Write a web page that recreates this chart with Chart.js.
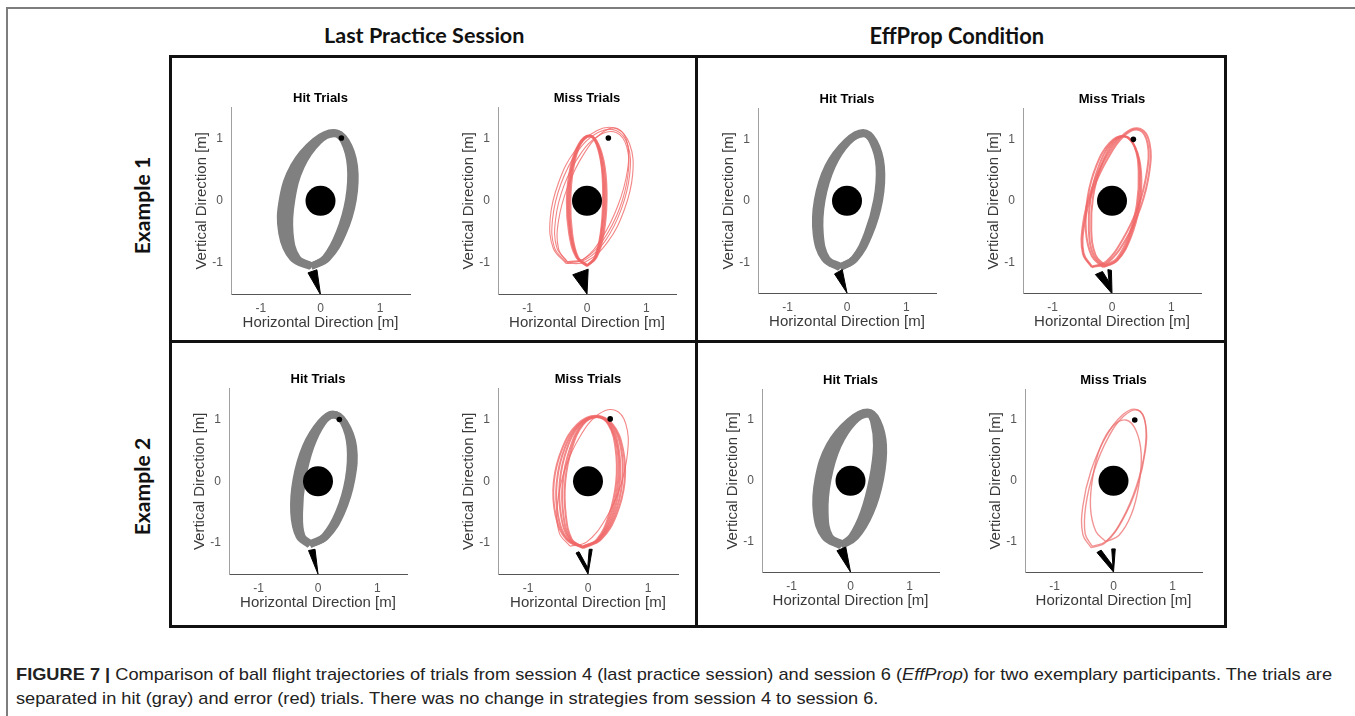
<!DOCTYPE html>
<html><head><meta charset="utf-8">
<script src="https://cdn.jsdelivr.net/npm/chart.js@4.4.1/dist/chart.umd.min.js"></script>
<style>
html,body{margin:0;padding:0;background:#fff;}
#page{position:relative;width:1355px;height:716px;overflow:hidden;background:#fff;}
.abs{position:absolute;}
#frame{left:6px;top:7px;width:1349px;height:709px;border-top:2px solid #7d7d7d;border-left:2px solid #7d7d7d;box-sizing:border-box;}
#box{left:169px;top:55px;width:1058px;height:573px;border:3px solid #111;box-sizing:border-box;}
#vdiv{left:695px;top:55px;width:3px;height:573px;background:#111;}
#hdiv{left:169px;top:340px;width:1058px;height:3px;background:#111;}
.head{font-family:Lato,"Open Sans",sans-serif;font-weight:bold;color:#111;white-space:nowrap;font-size:19px;line-height:1;}
.cap{left:16px;font-family:"Liberation Sans Narrow","Liberation Sans",Arial,sans-serif;font-size:17px;line-height:20px;color:#222;white-space:nowrap;transform-origin:0 50%;}
canvas{position:absolute;}
</style></head>
<body>
<div id="page">
  <div id="frame" class="abs"></div>
  <div id="box" class="abs"></div>
  <div id="vdiv" class="abs"></div>
  <div id="hdiv" class="abs"></div>
</div>
<script>
// ---------------- data ----------------
const columnTitles = ["Last Practice Session", "EffProp Condition"];
const rowTitles = ["Example 1", "Example 2"];
const subplotTitles = ["Hit Trials", "Miss Trials"];
const xAxisLabel = "Horizontal Direction [m]";
const yAxisLabel = "Vertical Direction [m]";
const axisLimits = [-1.5, 1.5];
const xTickValues = [-1, 0, 1];
const yTickValues = [-1, 0, 1];
const captionLead = "FIGURE 7 |";
const captionLine1 = " Comparison of ball flight trajectories of trials from session 4 (last practice session) and session 6 (";
const captionItalic = "EffProp";
const captionLine1End = ") for two exemplary participants. The trials are";
const captionLine2 = "separated in hit (gray) and error (red) trials. There was no change in strategies from session 4 to session 6.";

// center post and targets [x, y] in metres
const post = [0, 0];
const ex1PracticeHitTarget = [0.35, 1.01];
const ex1PracticeMissTarget = [0.36, 1.01];
const ex1EffPropMissTarget = [0.36, 1.00];
const ex2PracticeHitTarget = [0.36, 1.00];
const ex2PracticeMissTarget = [0.37, 1.01];
const ex2EffPropMissTarget = [0.36, 1.00];

// launcher outlines (x, y pairs)
const ex1PracticeHitLauncher = [-0.21,-1.16, 0,-1.51, -0.06,-1.11, -0.21,-1.16];
const ex1PracticeMissLauncher = [-0.24,-1.19, 0,-1.50, 0.02,-1.10, -0.24,-1.19];
const ex1EffPropHitLauncher = [-0.21,-1.19, 0,-1.50, -0.08,-1.12, -0.21,-1.19];
const ex1EffPropMissLauncher = [-0.28,-1.20, 0,-1.51, -0.01,-1.13, -0.07,-1.12, -0.05,-1.32, -0.16,-1.15, -0.28,-1.20];
const ex2PracticeHitLauncher = [-0.16,-1.12, 0,-1.50, -0.05,-1.10, -0.16,-1.12];
const ex2PracticeMissLauncher = [-0.20,-1.16, 0,-1.50, 0.07,-1.10, 0.02,-1.10, -0.005,-1.40, -0.15,-1.14, -0.20,-1.16];
const ex2EffPropHitLauncher = [-0.23,-1.15, 0,-1.50, -0.08,-1.09, -0.23,-1.15];
const ex2EffPropMissLauncher = [-0.28,-1.18, 0,-1.50, 0.03,-1.12, -0.03,-1.12, -0.01,-1.40, -0.21,-1.14, -0.28,-1.18];

// ball trajectories (x, y pairs)
const ex1PracticeHit = [
  [-0.16,-1.06, 0.12,-0.92, 0.38,-0.52, 0.55,0.02, 0.57,0.56, 0.43,0.96, 0.22,1.10, -0.10,0.96, -0.45,0.56, -0.64,0.02, -0.65,-0.52, -0.47,-0.92, -0.16,-1.06],
  [-0.15,-1.05, 0.10,-0.92, 0.34,-0.52, 0.51,0.02, 0.54,0.56, 0.41,0.96, 0.24,1.09, -0.07,0.96, -0.38,0.56, -0.56,0.02, -0.58,-0.52, -0.43,-0.92, -0.15,-1.05],
  [-0.14,-1.05, 0.08,-0.92, 0.31,-0.52, 0.47,0.02, 0.50,0.56, 0.39,0.96, 0.23,1.08, -0.03,0.96, -0.32,0.56, -0.48,0.02, -0.51,-0.52, -0.39,-0.92, -0.14,-1.05]
];
const ex1PracticeMissBand = [
  [0.00,-1.05, 0.16,-0.91, 0.28,-0.53, 0.33,0.00, 0.30,0.53, 0.19,0.91, 0.04,1.05, -0.14,0.91, -0.28,0.53, -0.34,0.00, -0.30,-0.53, -0.18,-0.91, 0.00,-1.05],
  [0.00,-1.05, 0.15,-0.91, 0.26,-0.53, 0.31,0.00, 0.28,0.53, 0.18,0.91, 0.04,1.05, -0.13,0.91, -0.26,0.53, -0.32,0.00, -0.28,-0.53, -0.17,-0.91, 0.00,-1.05],
  [0.00,-1.04, 0.14,-0.91, 0.24,-0.53, 0.29,0.00, 0.26,0.53, 0.17,0.91, 0.04,1.04, -0.12,0.91, -0.25,0.53, -0.30,0.00, -0.27,-0.53, -0.16,-0.91, 0.00,-1.04],
  [0.01,-1.04, 0.13,-0.91, 0.23,-0.53, 0.27,0.00, 0.25,0.53, 0.16,0.91, 0.05,1.04, -0.11,0.91, -0.23,0.53, -0.28,0.00, -0.25,-0.53, -0.15,-0.91, 0.01,-1.04]
];
const ex1PracticeMissLoops = [
  [-0.35,-1.01, -0.02,-0.98, 0.35,-0.66, 0.63,-0.14, 0.77,0.43, 0.72,0.91, 0.50,1.16, 0.17,1.13, -0.20,0.81, -0.48,0.29, -0.62,-0.28, -0.57,-0.76, -0.35,-1.01],
  [-0.35,-0.99, -0.03,-0.95, 0.31,-0.64, 0.58,-0.13, 0.72,0.43, 0.69,0.89, 0.49,1.13, 0.17,1.09, -0.17,0.78, -0.44,0.27, -0.58,-0.29, -0.55,-0.75, -0.35,-0.99],
  [-0.33,-0.98, -0.04,-0.93, 0.28,-0.62, 0.55,-0.12, 0.69,0.42, 0.67,0.87, 0.49,1.10, 0.20,1.05, -0.12,0.74, -0.39,0.24, -0.53,-0.30, -0.51,-0.75, -0.33,-0.98],
  [-0.32,-1.00, -0.06,-0.94, 0.25,-0.60, 0.52,-0.08, 0.68,0.48, 0.68,0.93, 0.52,1.16, 0.26,1.10, -0.05,0.76, -0.32,0.24, -0.48,-0.32, -0.48,-0.77, -0.32,-1.00]
];
const ex1EffPropHit = [
  [-0.12,-1.09, 0.14,-0.94, 0.38,-0.54, 0.55,0.01, 0.58,0.56, 0.46,0.96, 0.27,1.11, -0.01,0.96, -0.32,0.56, -0.50,0.01, -0.52,-0.54, -0.38,-0.94, -0.12,-1.09],
  [-0.11,-1.08, 0.13,-0.94, 0.36,-0.54, 0.52,0.01, 0.56,0.56, 0.44,0.96, 0.28,1.10, 0.01,0.96, -0.29,0.56, -0.46,0.01, -0.48,-0.54, -0.36,-0.94, -0.11,-1.08],
  [-0.10,-1.07, 0.12,-0.94, 0.34,-0.54, 0.50,0.01, 0.54,0.56, 0.43,0.96, 0.28,1.09, 0.02,0.96, -0.25,0.56, -0.42,0.01, -0.45,-0.54, -0.34,-0.94, -0.10,-1.07]
];
const ex1EffPropMissInner = [
  [-0.15,-1.08, 0.09,-0.97, 0.31,-0.61, 0.46,-0.09, 0.49,0.46, 0.39,0.87, 0.20,1.05, -0.04,0.94, -0.26,0.58, -0.41,0.06, -0.44,-0.49, -0.34,-0.90, -0.15,-1.08],
  [-0.13,-1.07, 0.09,-0.96, 0.30,-0.59, 0.44,-0.08, 0.47,0.46, 0.39,0.87, 0.21,1.05, -0.01,0.94, -0.22,0.57, -0.36,0.06, -0.39,-0.48, -0.31,-0.89, -0.13,-1.07],
  [-0.12,-1.05, 0.08,-0.94, 0.28,-0.58, 0.42,-0.06, 0.45,0.47, 0.38,0.88, 0.22,1.05, 0.02,0.94, -0.18,0.58, -0.32,0.06, -0.35,-0.47, -0.28,-0.88, -0.12,-1.05]
];
const ex1EffPropMissOuter = [
  [-0.34,-1.08, -0.08,-1.01, 0.22,-0.65, 0.48,-0.11, 0.63,0.48, 0.63,0.95, 0.48,1.17, 0.22,1.10, -0.08,0.74, -0.34,0.20, -0.49,-0.39, -0.49,-0.86, -0.34,-1.08],
  [-0.34,-1.07, -0.10,-0.99, 0.18,-0.63, 0.44,-0.10, 0.59,0.48, 0.60,0.93, 0.46,1.15, 0.22,1.07, -0.06,0.71, -0.32,0.18, -0.47,-0.40, -0.48,-0.85, -0.34,-1.07]
];
const ex2PracticeHit = [
  [-0.14,-1.03, 0.14,-0.89, 0.40,-0.50, 0.57,0.03, 0.60,0.56, 0.45,0.95, 0.25,1.09, 0.04,0.95, -0.21,0.56, -0.37,0.03, -0.41,-0.50, -0.32,-0.89, -0.14,-1.03],
  [-0.13,-1.02, 0.13,-0.89, 0.37,-0.50, 0.54,0.03, 0.57,0.56, 0.44,0.95, 0.26,1.08, 0.06,0.95, -0.16,0.56, -0.31,0.03, -0.36,-0.50, -0.29,-0.89, -0.13,-1.02],
  [-0.12,-1.01, 0.11,-0.89, 0.35,-0.50, 0.51,0.03, 0.54,0.56, 0.43,0.95, 0.26,1.07, 0.08,0.95, -0.12,0.56, -0.26,0.03, -0.31,-0.50, -0.27,-0.89, -0.12,-1.01]
];
const ex2PracticeMissBand = [
  [-0.08,-1.08, 0.22,-0.94, 0.47,-0.55, 0.61,-0.01, 0.58,0.53, 0.41,0.92, 0.13,1.06, -0.18,0.92, -0.43,0.53, -0.57,-0.01, -0.54,-0.55, -0.36,-0.94, -0.08,-1.08],
  [-0.08,-1.07, 0.20,-0.94, 0.44,-0.55, 0.57,-0.01, 0.55,0.53, 0.39,0.92, 0.14,1.05, -0.15,0.92, -0.39,0.53, -0.52,-0.01, -0.50,-0.55, -0.34,-0.94, -0.08,-1.07],
  [-0.09,-1.07, 0.18,-0.94, 0.41,-0.55, 0.53,-0.01, 0.51,0.53, 0.37,0.92, 0.14,1.05, -0.13,0.92, -0.35,0.53, -0.47,-0.01, -0.45,-0.55, -0.31,-0.94, -0.09,-1.07],
  [-0.09,-1.06, 0.17,-0.94, 0.38,-0.55, 0.50,-0.01, 0.49,0.53, 0.35,0.92, 0.15,1.04, -0.10,0.92, -0.30,0.53, -0.42,-0.01, -0.41,-0.55, -0.29,-0.94, -0.09,-1.06],
  [-0.10,-1.06, 0.15,-0.94, 0.35,-0.55, 0.47,-0.01, 0.46,0.53, 0.34,0.92, 0.15,1.04, -0.08,0.92, -0.27,0.53, -0.38,-0.01, -0.37,-0.55, -0.27,-0.94, -0.10,-1.06]
];
const ex2PracticeMissLoops = [
  [-0.30,-1.05, -0.02,-0.98, 0.28,-0.63, 0.53,-0.11, 0.66,0.47, 0.63,0.93, 0.45,1.15, 0.17,1.08, -0.13,0.73, -0.38,0.21, -0.51,-0.37, -0.48,-0.83, -0.30,-1.05]
];
const ex2EffPropHit = [
  [-0.16,-1.07, 0.09,-0.92, 0.34,-0.52, 0.51,0.03, 0.56,0.58, 0.46,0.98, 0.29,1.13, -0.02,0.98, -0.36,0.58, -0.55,0.03, -0.58,-0.52, -0.44,-0.92, -0.16,-1.07],
  [-0.15,-1.06, 0.07,-0.92, 0.30,-0.52, 0.46,0.03, 0.52,0.58, 0.44,0.98, 0.29,1.12, 0.00,0.98, -0.31,0.58, -0.50,0.03, -0.53,-0.52, -0.41,-0.92, -0.15,-1.06],
  [-0.14,-1.05, 0.05,-0.92, 0.26,-0.52, 0.41,0.03, 0.48,0.58, 0.41,0.98, 0.30,1.11, 0.03,0.98, -0.26,0.58, -0.44,0.03, -0.48,-0.52, -0.38,-0.92, -0.14,-1.05],
  [-0.13,-1.04, 0.02,-0.92, 0.22,-0.52, 0.37,0.03, 0.44,0.58, 0.39,0.98, 0.30,1.10, 0.06,0.98, -0.21,0.58, -0.38,0.03, -0.43,-0.52, -0.35,-0.92, -0.13,-1.04]
];
const ex2EffPropMissLoops = [
  [-0.38,-1.10, -0.14,-1.02, 0.15,-0.65, 0.40,-0.10, 0.54,0.49, 0.54,0.95, 0.40,1.17, 0.16,1.09, -0.13,0.72, -0.38,0.17, -0.52,-0.42, -0.52,-0.88, -0.38,-1.10],
  [-0.36,-1.08, -0.12,-0.99, 0.15,-0.63, 0.39,-0.08, 0.53,0.49, 0.54,0.95, 0.42,1.16, 0.18,1.07, -0.09,0.71, -0.33,0.16, -0.47,-0.41, -0.48,-0.87, -0.36,-1.08],
  [-0.13,-1.00, 0.09,-0.90, 0.30,-0.56, 0.43,-0.07, 0.47,0.44, 0.38,0.83, 0.21,1.00, -0.01,0.90, -0.22,0.56, -0.35,0.07, -0.39,-0.44, -0.30,-0.83, -0.13,-1.00]
];

// ---------------- layout & styles ----------------
const FONT = '"Liberation Sans", Arial, Helvetica, sans-serif';
const Y_W = 56, X_H = 38, PAD_R = 10;
const TITLE_SIZE = 13, TITLE_PAD_T = 6, TITLE_PAD_B = 1;
const TITLE_H = TITLE_SIZE * 1.2 + TITLE_PAD_T + TITLE_PAD_B;
const AXIS_TITLE_SIZE = 15, TICK_SIZE = 12;

const styles = {
  hit: { color: '#808080', width: 7 },
  missBand: { color: 'rgba(240,104,104,0.8)', width: 2 },
  missThin: { color: 'rgba(240,104,104,0.8)', width: 1.1 },
  missMid: { color: 'rgba(240,104,104,0.8)', width: 2 },
  missLight: { color: 'rgba(238,112,112,0.75)', width: 1.4 }
};

const panelSpecs = [
  { area: {l:231, r:415, t:108, b:294}, title: subplotTitles[0], groups: [{d: ex1PracticeHit, s: 'hit'}], launcher: ex1PracticeHitLauncher, target: ex1PracticeHitTarget },
  { area: {l:498, r:681, t:108, b:294}, title: subplotTitles[1], groups: [{d: ex1PracticeMissBand, s: 'missBand'}, {d: ex1PracticeMissLoops, s: 'missThin'}], launcher: ex1PracticeMissLauncher, target: ex1PracticeMissTarget },
  { area: {l:758, r:941, t:109, b:293}, title: subplotTitles[0], groups: [{d: ex1EffPropHit, s: 'hit'}], launcher: ex1EffPropHitLauncher, target: null },
  { area: {l:1023, r:1206, t:109, b:293}, title: subplotTitles[1], groups: [{d: ex1EffPropMissInner, s: 'missMid'}, {d: ex1EffPropMissOuter, s: 'missMid'}], launcher: ex1EffPropMissLauncher, target: ex1EffPropMissTarget },
  { area: {l:229, r:412, t:389, b:574}, title: subplotTitles[0], groups: [{d: ex2PracticeHit, s: 'hit'}], launcher: ex2PracticeHitLauncher, target: ex2PracticeHitTarget },
  { area: {l:498, r:683, t:389, b:574}, title: subplotTitles[1], groups: [{d: ex2PracticeMissBand, s: 'missBand'}, {d: ex2PracticeMissLoops, s: 'missThin'}], launcher: ex2PracticeMissLauncher, target: ex2PracticeMissTarget },
  { area: {l:762, r:944, t:390, b:572}, title: subplotTitles[0], groups: [{d: ex2EffPropHit, s: 'hit'}], launcher: ex2EffPropHitLauncher, target: null },
  { area: {l:1025, r:1207, t:390, b:572}, title: subplotTitles[1], groups: [{d: ex2EffPropMissLoops, s: 'missLight'}], launcher: ex2EffPropMissLauncher, target: ex2EffPropMissTarget }
];

function toPoints(flat) {
  const out = [];
  for (let i = 0; i < flat.length; i += 2) out.push({ x: flat[i], y: flat[i + 1] });
  return out;
}

const page = document.getElementById('page');

panelSpecs.forEach(p => {
  const c = document.createElement('canvas');
  const w = Math.round(p.area.r - p.area.l + Y_W + PAD_R);
  const h = Math.round(TITLE_H + (p.area.b - p.area.t) + X_H);
  c.width = w; c.height = h;
  c.style.left = Math.round(p.area.l - Y_W) + 'px';
  c.style.top = Math.round(p.area.t - TITLE_H) + 'px';
  c.style.width = w + 'px'; c.style.height = h + 'px';
  page.appendChild(c);

  const datasets = [];
  datasets.push({ data: [{ x: post[0], y: post[1] }], showLine: false, pointRadius: 15, pointBackgroundColor: '#000', pointBorderWidth: 0 });
  if (p.target) datasets.push({ data: [{ x: p.target[0], y: p.target[1] }], showLine: false, pointRadius: 2.8, pointBackgroundColor: '#000', pointBorderWidth: 0 });
  datasets.push({ data: toPoints(p.launcher), showLine: true, fill: 'shape', backgroundColor: '#000', borderColor: '#000', borderWidth: 1, pointRadius: 0, tension: 0 });
  p.groups.forEach(g => {
    g.d.forEach(tr => {
      datasets.push({ data: toPoints(tr), showLine: true, fill: false, borderColor: styles[g.s].color, borderWidth: styles[g.s].width, pointRadius: 0, tension: 0.4, borderJoinStyle: 'round' });
    });
  });

  new Chart(c, {
    type: 'scatter',
    data: { datasets },
    options: {
      responsive: false, animation: false, devicePixelRatio: 1, events: [],
      layout: { padding: { left: 0, top: 0, bottom: 0, right: PAD_R } },
      plugins: {
        legend: { display: false }, tooltip: { enabled: false },
        title: { display: true, text: p.title, fullSize: false, color: '#000',
          font: { family: FONT, size: TITLE_SIZE, weight: 'bold' }, padding: { top: TITLE_PAD_T, bottom: TITLE_PAD_B } }
      },
      scales: {
        x: {
          type: 'linear', min: axisLimits[0], max: axisLimits[1],
          afterBuildTicks: s => { s.ticks = xTickValues.map(v => ({ value: v })); },
          afterFit: s => { s.height = X_H; },
          grid: { display: false, drawTicks: false },
          border: { display: true, color: '#555', width: 1 },
          ticks: { padding: 7, color: '#555', font: { family: FONT, size: TICK_SIZE } },
          title: { display: true, text: xAxisLabel, color: '#3a3a3a', font: { family: FONT, size: AXIS_TITLE_SIZE }, padding: { top: 0, bottom: 0 } }
        },
        y: {
          type: 'linear', min: axisLimits[0], max: axisLimits[1],
          afterBuildTicks: s => { s.ticks = yTickValues.map(v => ({ value: v })); },
          afterFit: s => { s.width = Y_W; },
          grid: { display: false, drawTicks: false },
          border: { display: true, color: '#a0a0a0', width: 1 },
          ticks: { padding: 8, color: '#555', font: { family: FONT, size: TICK_SIZE } },
          title: { display: true, text: yAxisLabel, color: '#3a3a3a', font: { family: FONT, size: AXIS_TITLE_SIZE }, padding: { top: 18, bottom: 0 } }
        }
      }
    }
  });
});

// ---------------- headers, row labels, caption ----------------
function addText(text, cls, cx, cy, targetW, rotate) {
  const el = document.createElement('div');
  el.className = 'abs ' + cls;
  el.textContent = text;
  page.appendChild(el);
  const w0 = el.offsetWidth;
  const fs = parseFloat(getComputedStyle(el).fontSize);
  el.style.fontSize = (fs * targetW / w0) + 'px';
  const w = el.offsetWidth, h = el.offsetHeight;
  el.style.left = (cx - w / 2) + 'px';
  el.style.top = (cy - h / 2) + 'px';
  if (rotate) el.style.transform = 'rotate(-90deg)';
  return el;
}
addText(columnTitles[0], 'head', 424, 36, 201, false);
addText(columnTitles[1], 'head', 957, 36, 175, false);
addText(rowTitles[0], 'head', 143, 205, 98, true);
addText(rowTitles[1], 'head', 143, 486, 98, true);

const cap1 = document.createElement('div');
cap1.className = 'abs cap';
cap1.style.top = '665px';
const b = document.createElement('b'); b.textContent = captionLead; cap1.appendChild(b);
cap1.appendChild(document.createTextNode(captionLine1));
const it = document.createElement('i'); it.textContent = captionItalic; cap1.appendChild(it);
cap1.appendChild(document.createTextNode(captionLine1End));
page.appendChild(cap1);
const cap2 = document.createElement('div');
cap2.className = 'abs cap';
cap2.style.top = '689px';
cap2.textContent = captionLine2;
page.appendChild(cap2);
const sc = 1316 / cap1.offsetWidth;
cap1.style.transform = 'scaleX(' + sc + ')';
cap2.style.transform = 'scaleX(' + sc + ')';
</script>
</body></html>
